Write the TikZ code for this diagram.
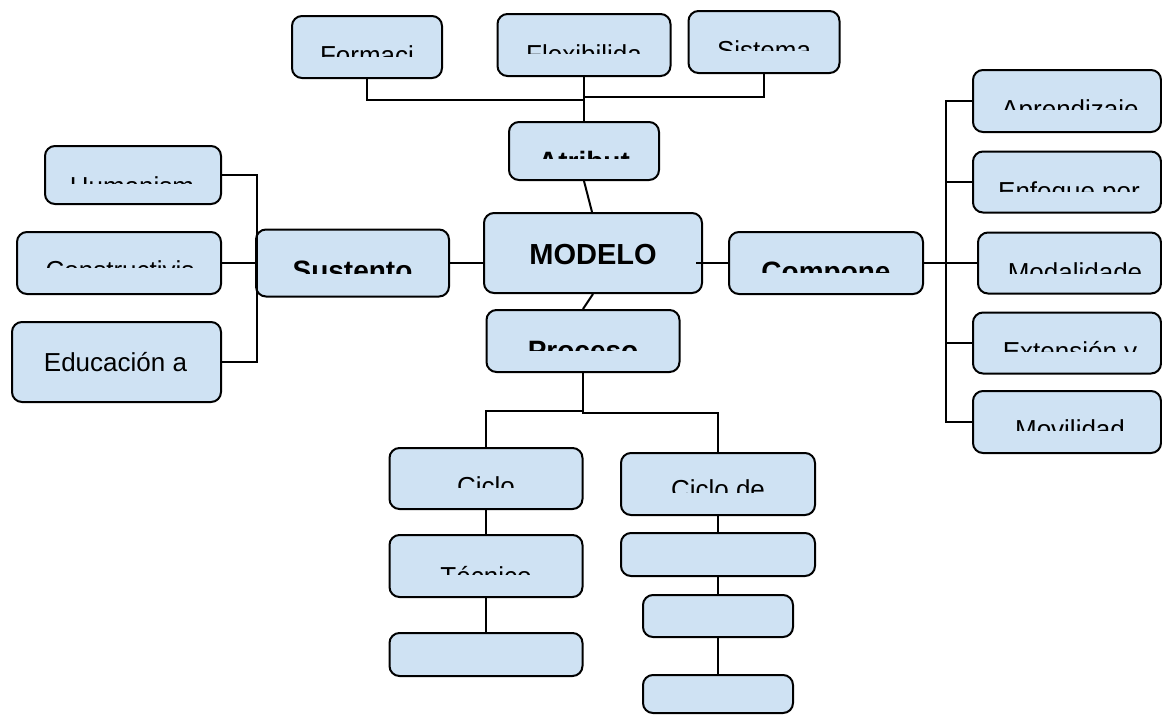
\documentclass[tikz,border=0pt]{standalone}
\usepackage{fontspec}
\setmainfont{Liberation Sans}
\definecolor{boxfill}{HTML}{CFE2F3}
\tikzset{
  box/.style={draw=black, fill=boxfill, line width=2pt, rounded corners=10pt, inner sep=0pt},
  conn/.style={draw=black, line width=2pt},
  lbl/.style={inner sep=0pt, anchor=base, font=\fontsize{26}{30}\selectfont},
  blbl/.style={inner sep=0pt, anchor=base, font=\fontsize{28}{32}\selectfont\bfseries},
}
\newcommand{\mybox}[5]{\node[box, minimum width=#4pt, minimum height=#5pt] (#1) at (#2,#3) {};}
% name, x, baseline y, clip top, clip bottom, x1, x2, style, text
\newcommand{\cliptext}[9]{\begin{scope}\clip (#6,#4) rectangle (#7,#5); \node[#8] (#1) at (#2,#3) {#9};\end{scope}}
\begin{document}
\begin{tikzpicture}[x=1pt,y=-1pt]
\useasboundingbox (0,0) rectangle (1162,715);
\fill[white] (0,0) rectangle (1162,715);

% boxes
\mybox{form}{367}{47}{150}{62}
\mybox{flex}{584}{45}{173}{62}
\mybox{sist}{764}{42}{151}{62}
\mybox{atri}{584}{151}{150}{58}
\mybox{mod}{593}{253}{218}{80}
\mybox{sus}{352.5}{263}{193}{67}
\mybox{comp}{826}{263}{194}{62}
\mybox{proc}{583}{341}{193}{62}
\mybox{hum}{133}{175}{176}{58}
\mybox{cons}{119}{263}{204}{62}
\mybox{edu}{116.5}{362}{209}{80}
\mybox{apr}{1067}{101}{188}{62}
\mybox{enf}{1067}{182}{188}{61}
\mybox{modal}{1069.5}{263}{183}{61}
\mybox{ext}{1067}{343}{188}{61}
\mybox{mov}{1067}{422}{188}{62}
\mybox{cic}{486}{478.5}{193}{61}
\mybox{tec}{486}{566}{193}{62}
\mybox{eone}{486}{654.5}{193}{43}
\mybox{cicd}{718}{484}{194}{62}
\mybox{rtwo}{718}{554.5}{194}{43}
\mybox{rthree}{718}{616}{150}{42}
\mybox{rfour}{718}{694}{150}{38}

% texts
\cliptext{formt}{367}{64.6}{20}{56}{292}{442}{lbl}{Formaci}
\cliptext{flext}{584}{63.6}{18}{53}{497}{670}{lbl}{Flexibilida}
\cliptext{sistt}{764}{59.6}{15}{50}{688}{839}{lbl}{Sistema}
\cliptext{atrit}{584}{171}{125}{158}{509}{659}{blbl}{Atribut}
\node[inner sep=0pt, anchor=base, font=\fontsize{29}{33}\selectfont\bfseries] (modt) at (593,264) {MODELO};
\cliptext{sust}{352.5}{280}{232}{273}{256}{449}{blbl}{Sustento}
\cliptext{compt}{826}{281}{235}{272}{729}{923}{blbl}{Compone}
\cliptext{proct}{583}{360}{313}{350}{487}{680}{blbl}{Proceso}
\cliptext{humt}{132}{195.6}{150}{183}{45}{221}{lbl}{Humanism}
\cliptext{const}{120}{279.6}{235}{267}{17}{221}{lbl}{Constructivis}
\node[lbl] (edut) at (115.5,371) {Educación a};
\cliptext{aprt}{1070}{118.6}{73}{109}{973}{1162}{lbl}{Aprendizaje}
\cliptext{enft}{1069}{200.6}{155}{191}{973}{1162}{lbl}{Enfoque por}
\cliptext{modalt}{1075}{281.6}{235}{273}{978}{1162}{lbl}{Modalidade}
\cliptext{extt}{1070}{360.6}{315}{351}{973}{1162}{lbl}{Extensión y}
\cliptext{movt}{1070}{438.6}{394}{430}{973}{1162}{lbl}{Movilidad}
\cliptext{cict}{486}{495.6}{451}{487}{389}{582}{lbl}{Ciclo}
\cliptext{tect}{486}{585.6}{538}{574}{389}{582}{lbl}{Técnico}
\cliptext{cicdt}{718}{498.6}{456}{492}{621}{815}{lbl}{Ciclo de}

% junctions
\coordinate (jtop) at (584,100);
\coordinate (jtopr) at (584,97);
\coordinate (mc) at ([xshift=-7pt]mod.east);
\coordinate (rj) at (947,263);

% connectors
\draw[conn] (form.south) |- (jtop);
\draw[conn] (sist.south) |- (jtopr);
\draw[conn] (flex.south) -- (atri.north);
\draw[conn] (atri.south) -- ([xshift=-1pt]mod.north);
\draw[conn] (mod.south) -- (proc.north);
\draw[conn] (sus.east) -- (sus.east -| mod.west);
\draw[conn] (mc |- comp.west) -- (comp.west);
\draw[conn] (comp.east) -- (rj);
\draw[conn] (apr.west) -- ++(-26,0) |- (mov.west);
\draw[conn] (enf.west) -- ++(-26,0);
\draw[conn] (modal.west) -- (rj);
\draw[conn] (ext.west) -- ++(-26,0);
\draw[conn] (hum.east) -- ++(35,0) |- (edu.east);
\draw[conn] (cons.east) -- (sus.west |- cons.east);
\draw[conn] (proc.south) -- ++(0,38) -| (cic.north);
\draw[conn] (proc.south) -- ++(0,40) -| (cicd.north);
\draw[conn] (cic.south) -- (tec.north);
\draw[conn] (tec.south) -- (eone.north);
\draw[conn] (cicd.south) -- (rtwo.north);
\draw[conn] (rtwo.south) -- (rthree.north);
\draw[conn] (rthree.south) -- (rfour.north);
\end{tikzpicture}
\end{document}
